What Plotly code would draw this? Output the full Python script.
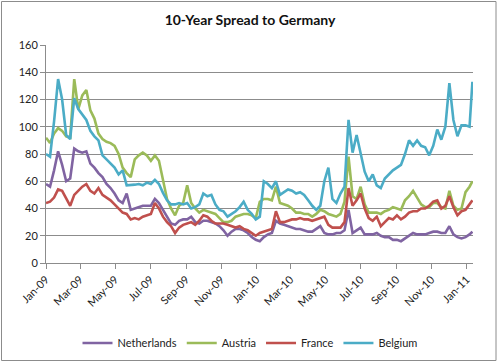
import pandas as pd
import plotly.graph_objects as go

# Weekly observation dates (Jan 2009 - Jan 2011)
dates = list(pd.date_range("2009-01-01", periods=106, freq="7D")) + [pd.Timestamp("2011-01-11")]

netherlands = [58, 56, 68, 82, 72, 60, 62, 84, 82, 81,
               82, 73, 70, 66, 63, 58, 55, 51, 46, 44,
               51, 39, 40, 41, 42, 42, 42, 47, 44, 39,
               34, 29, 28, 31, 32, 32, 34, 30, 29, 31,
               31, 30, 29, 27, 24, 20, 23, 25, 25, 24,
               22, 19, 17, 16, 19, 21, 22, 31, 29, 28,
               27, 26, 25, 25, 24, 23, 23, 25, 27, 22,
               21, 21, 22, 22, 24, 39, 22, 24, 26, 21,
               21, 21, 22, 20, 19, 19, 17, 17, 16, 18,
               20, 22, 21, 21, 21, 22, 23, 23, 22, 22,
               27, 21, 19, 18, 19, 21, 23]

austria = [92, 88, 95, 99, 97, 93, 92, 135, 113, 123,
           127, 112, 106, 95, 91, 89, 88, 86, 80, 70,
           66, 63, 76, 79, 81, 79, 75, 79, 75, 60,
           47, 40, 35, 42, 44, 57, 44, 40, 37, 39,
           38, 37, 36, 33, 30, 30, 31, 34, 35, 36,
           36, 35, 33, 45, 47, 47, 46, 56, 44, 43,
           42, 40, 37, 37, 36, 36, 34, 36, 39, 38,
           36, 35, 34, 36, 45, 78, 49, 47, 56, 43,
           37, 37, 37, 36, 38, 39, 41, 40, 39, 46,
           49, 53, 48, 43, 41, 41, 44, 44, 41, 40,
           53, 42, 39, 40, 52, 56, 60]

france = [44, 45, 48, 54, 53, 48, 42, 50, 53, 56,
          58, 53, 51, 55, 50, 48, 46, 43, 40, 37,
          36, 32, 33, 32, 34, 35, 36, 44, 40, 34,
          30, 27, 22, 26, 28, 29, 30, 28, 31, 35,
          34, 31, 29, 29, 29, 28, 27, 26, 27, 25,
          24, 22, 20, 22, 23, 24, 25, 38, 30, 30,
          31, 32, 32, 33, 32, 32, 31, 32, 33, 34,
          28, 26, 26, 26, 30, 55, 42, 46, 51, 40,
          33, 31, 34, 27, 30, 33, 32, 35, 32, 34,
          37, 38, 38, 40, 40, 42, 45, 46, 40, 42,
          49, 41, 35, 38, 39, 43, 46]

belgium = [80, 78, 104, 135, 120, 94, 91, 121, 113, 109,
           105, 97, 93, 90, 79, 76, 73, 70, 65, 68,
           57, 57, 57.5, 58, 57, 59, 58, 61, 58, 51.5,
           46, 43, 43, 44, 43, 44, 40, 41, 43, 51,
           49, 50, 43, 39, 38, 34, 36, 38, 41, 45,
           39, 36, 32, 34, 60, 58, 55, 60, 50, 52,
           54, 53, 51, 52, 50, 46, 42, 39, 42, 60,
           70, 47, 44, 51, 56, 105, 81, 94, 80, 67,
           60, 65, 57, 55, 62, 65, 68, 70, 72, 80,
           90, 86, 90, 86, 85, 79, 86, 98, 90.5, 100,
           132, 105, 93, 101, 101, 100, 133]

series = [("Netherlands", netherlands, "#8064A2"),
          ("Austria", austria, "#9BBB59"),
          ("France", france, "#C0504D"),
          ("Belgium", belgium, "#4BACC6")]

fig = go.Figure()
for name, vals, col in series:
    fig.add_trace(go.Scatter(x=dates, y=vals, name=name, mode="lines",
                             line=dict(color=col, width=2.6)))

grid = "#8C8C8C"
fig.update_layout(
    width=500, height=362,
    margin=dict(l=46, r=27, t=45, b=99, autoexpand=False),
    paper_bgcolor="white", plot_bgcolor="white",
    font=dict(family="Lato, Open Sans, sans-serif", size=11, color="#222"),
    title=dict(text="<b>10-Year Spread to Germany</b>", x=0.5, xref="container",
               xanchor="center", y=1 - 20 / 362, yanchor="middle",
               font=dict(size=14, color="#111")),
    showlegend=True,
    legend=dict(orientation="h", xref="container", yref="container",
                x=0.5, xanchor="center", y=1 - 343 / 362, yanchor="middle",
                font=dict(size=11), itemwidth=30, tracegroupgap=0),
    xaxis=dict(type="date", range=["2009-01-01", "2011-01-12"],
               tick0="2009-01-01", dtick="M2", tickformat="%b-%y",
               tickangle=-45, ticks="outside", ticklen=5, tickcolor=grid,
               showline=True, linecolor=grid, linewidth=1, showgrid=False,
               automargin=False, tickfont=dict(size=11)),
    yaxis=dict(range=[0, 160], dtick=20, ticks="outside", ticklen=5,
               tickcolor=grid, showline=True, linecolor=grid, linewidth=1,
               showgrid=True, gridcolor=grid, gridwidth=1, zeroline=False,
               automargin=False, tickfont=dict(size=11)),
)

# outer chart border
pw, ph = 427, 218
fig.add_shape(type="rect", xref="paper", yref="paper",
              x0=(1.5 - 46) / pw, x1=(496 - 46) / pw,
              y0=(263 - 360.5) / ph, y1=(263 - 1.5) / ph,
              line=dict(color="#8C8C8C", width=1), fillcolor="rgba(0,0,0,0)",
              layer="below")

fig.write_html("out.html", config={"displayModeBar": False},
               post_script="document.body.style.margin='0';document.body.style.padding='0';")
